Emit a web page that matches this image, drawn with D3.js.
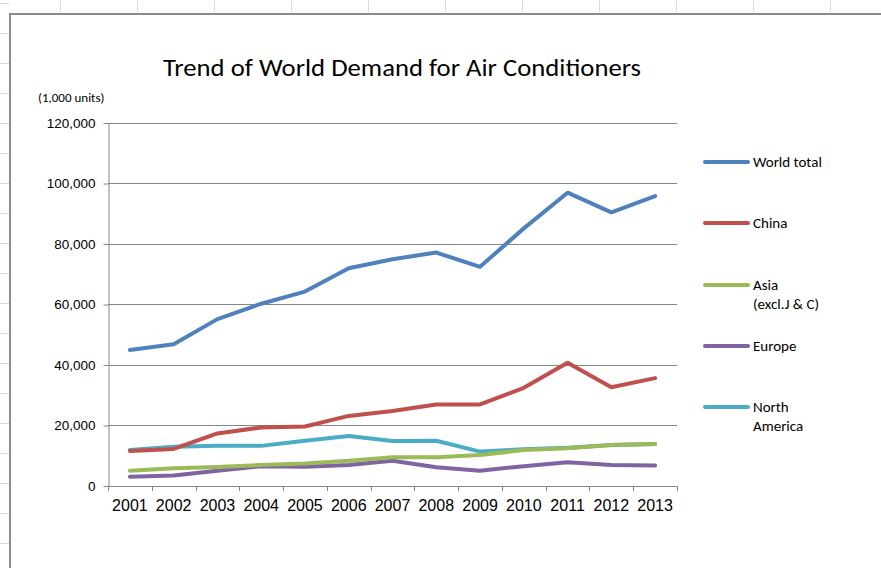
<!DOCTYPE html>
<html>
<head>
<meta charset="utf-8">
<script src="https://cdn.jsdelivr.net/npm/d3@7"></script>
<style>
  body { margin: 0; background: #fff; }
  svg { display: block; font-family: Carlito, Calibri, Lato, "Open Sans", sans-serif; }
</style>
</head>
<body>
<svg id="chart" width="881" height="568"></svg>
<script>
// data, in 1,000 units
const years = ["2001","2002","2003","2004","2005","2006","2007","2008","2009","2010","2011","2012","2013"]
const worldTotal   = [44800, 46700, 55000, 60100, 64100, 71800, 74800, 77000, 72300, 85000, 96800, 90300, 95700]
const china        = [11400, 12100, 17200, 19200, 19500, 23000, 24600, 26800, 26800, 32300, 40600, 32500, 35500]
const asiaExJC     = [4900, 5700, 6100, 6800, 7300, 8200, 9300, 9300, 10100, 11700, 12300, 13400, 13700]
const europe       = [2900, 3300, 4900, 6400, 6200, 6800, 8200, 6000, 4900, 6400, 7700, 6800, 6600]
const northAmerica = [11700, 12800, 13100, 13100, 14800, 16400, 14700, 14800, 11200, 12000, 12500, 13400, 13700]
const yTicks = [0, 20000, 40000, 60000, 80000, 100000, 120000]

const series = [
  {name: ["World total"], values: worldTotal, color: "#4F81BD"},
  {name: ["China"], values: china, color: "#C0504D"},
  {name: ["Asia", "(excl.J & C)"], values: asiaExJC, color: "#9BBB59"},
  {name: ["Europe"], values: europe, color: "#8064A2"},
  {name: ["North", "America"], values: northAmerica, color: "#4BACC6"}
]

const svg = d3.select("#chart")
const W = 881, H = 568

// spreadsheet backdrop: faint cell lines peeking out round the chart frame
const bg = svg.append("g").attr("stroke", "#d9d9d9").attr("stroke-width", 1)
bg.selectAll("line.row")
  .data(d3.range(3, H, 30))
  .join("line")
    .attr("x1", 0).attr("x2", 9)
    .attr("y1", d => d + 0.5).attr("y2", d => d + 0.5)
bg.selectAll("line.col")
  .data(d3.range(60, W, 77))
  .join("line")
    .attr("x1", d => d + 0.5).attr("x2", d => d + 0.5)
    .attr("y1", 0).attr("y2", 12)

// chart frame
svg.append("path")
  .attr("d", `M10,${H} V14 H${W}`)
  .attr("fill", "none")
  .attr("stroke", "#8c8c8c")
  .attr("stroke-width", 2)

const margin = {left: 108, right: 204, top: 122.5, bottom: 82.5}
const x = d3.scaleBand()
  .domain(years)
  .range([margin.left, W - margin.right])
const y = d3.scaleLinear()
  .domain([0, 120000])
  .range([H - margin.bottom, margin.top])

// title
svg.append("text")
  .attr("x", 402)
  .attr("y", 76)
  .attr("text-anchor", "middle")
  .attr("font-size", 25)
  .attr("textLength", 478)
  .attr("lengthAdjust", "spacingAndGlyphs")
  .attr("fill", "#000")
  .text("Trend of World Demand for Air Conditioners")

svg.append("text")
  .attr("x", 38)
  .attr("y", 102)
  .attr("font-size", 13)
  .attr("fill", "#000")
  .text("(1,000 units)")

// gridlines
svg.append("g")
  .selectAll("line")
  .data(yTicks.slice(1))
  .join("line")
    .attr("x1", margin.left).attr("x2", W - margin.right)
    .attr("y1", d => Math.round(y(d)) + 0.5).attr("y2", d => Math.round(y(d)) + 0.5)
    .attr("stroke", "#868686")

// y axis
const yAxis = svg.append("g")
  .attr("transform", `translate(${margin.left + 0.5},0.5)`)
  .call(d3.axisLeft(y).tickValues(yTicks).tickSize(5).tickSizeOuter(0).tickPadding(8)
    .tickFormat(d3.format(",")))
yAxis.selectAll("path, line").attr("stroke", "#868686")
yAxis.selectAll("text").attr("font-size", 13.5).attr("fill", "#000").attr("font-family", null)

// x axis
const xAxis = svg.append("g")
  .attr("transform", `translate(0,${y(0) + 0.5})`)
  .call(d3.axisBottom(x).tickSize(0).tickPadding(14))
xAxis.select("path").attr("stroke", "#868686")
xAxis.selectAll("text").attr("font-size", 16).attr("fill", "#000").attr("font-family", null)
// ticks sit on category boundaries
xAxis.append("g")
  .selectAll("line")
  .data(years.map(d => x(d)).concat([x.range()[1]]))
  .join("line")
    .attr("x1", d => Math.round(d) + 0.5).attr("x2", d => Math.round(d) + 0.5)
    .attr("y1", 0).attr("y2", 5)
    .attr("stroke", "#868686")

// lines
const line = d3.line()
  .x((d, i) => x(years[i]) + x.bandwidth() / 2)
  .y(d => y(d))

svg.append("g")
  .selectAll("path")
  .data(series.slice().reverse())
  .join("path")
    .attr("d", d => line(d.values))
    .attr("fill", "none")
    .attr("stroke", d => d.color)
    .attr("stroke-width", 4)
    .attr("stroke-linejoin", "round")
    .attr("stroke-linecap", "round")

// legend
const legendY = [162, 223, 285, 346, 407]
const legend = svg.append("g")
  .selectAll("g")
  .data(series)
  .join("g")
    .attr("transform", (d, i) => `translate(705,${legendY[i]})`)
legend.append("line")
  .attr("x1", 0).attr("x2", 43)
  .attr("stroke", d => d.color)
  .attr("stroke-width", 4)
  .attr("stroke-linecap", "round")
legend.append("text")
  .attr("x", 48)
  .attr("font-size", 15)
  .attr("fill", "#000")
  .selectAll("tspan")
  .data(d => d.name)
  .join("tspan")
    .attr("x", 48)
    .attr("y", (d, i) => 5 + i * 19)
    .text(d => d)
</script>
</body>
</html>
